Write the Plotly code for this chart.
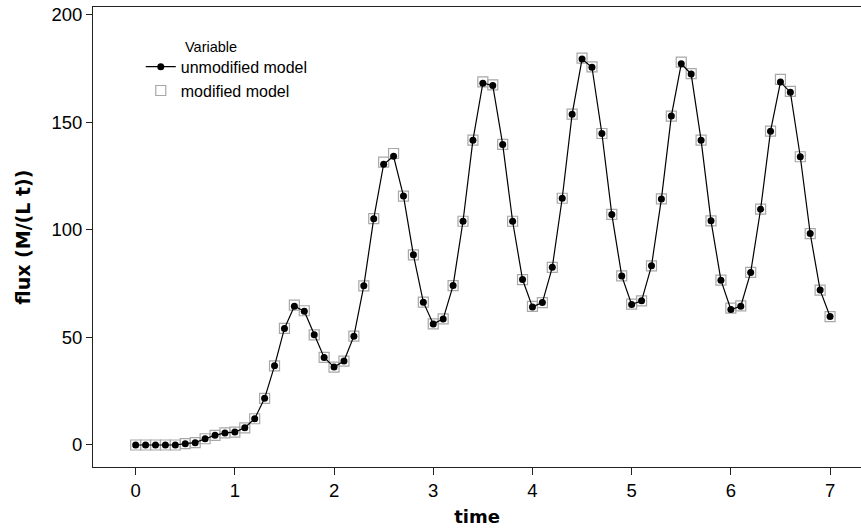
import plotly.graph_objects as go

time = [round(i * 0.1, 1) for i in range(71)]

unmodified = [0, 0, 0, 0, 0, 0.6, 1.1, 2.9, 4.5, 5.6,
              6.0, 8.0, 12.2, 21.7, 36.8, 54.2, 64.5, 62.2, 51.2, 40.7,
              36.2, 39.0, 50.6, 74.0, 105.2, 130.5, 134.2, 115.7, 88.4, 66.4,
              56.3, 58.6, 74.1, 104.0, 141.7, 168.2, 167.1, 139.7, 104.0, 76.9,
              64.2, 66.2, 82.6, 114.7, 153.8, 179.4, 175.6, 144.8, 107.2, 78.6,
              65.3, 67.0, 83.3, 114.4, 152.9, 177.2, 172.4, 141.7, 104.2, 76.6,
              63.0, 64.5, 80.2, 109.6, 145.9, 168.7, 164.0, 134.0, 98.3, 72.0,
              59.7]

modified = [0, 0, 0, 0, 0, 0.6, 1.1, 2.9, 4.5, 5.6,
            6.0, 8.0, 12.2, 21.7, 36.8, 54.2, 65.0, 62.4, 51.2, 40.7,
            36.2, 39.0, 50.6, 74.0, 105.2, 131.5, 135.5, 115.7, 88.4, 66.4,
            56.3, 58.6, 74.1, 104.0, 141.7, 168.8, 167.4, 139.7, 104.0, 76.9,
            64.4, 66.2, 82.6, 114.7, 153.8, 179.8, 175.8, 144.8, 107.2, 78.6,
            65.5, 67.0, 83.3, 114.4, 152.9, 178.0, 172.6, 141.7, 104.2, 76.6,
            63.6, 64.7, 80.2, 109.6, 145.9, 170.0, 164.4, 134.0, 98.3, 72.0,
            59.7]

xticks = [0, 1, 2, 3, 4, 5, 6, 7]
yticks = [0, 50, 100, 150, 200]

fig = go.Figure()
fig.add_trace(go.Scatter(
    x=time, y=modified, name="modified model", mode="markers",
    marker=dict(symbol="square-open", size=10, color="#a8a8a8", line=dict(width=1.2)),
    legendrank=2,
))
fig.add_trace(go.Scatter(
    x=time, y=unmodified, name="unmodified model", mode="lines+markers",
    line=dict(color="black", width=1.2),
    marker=dict(symbol="circle", size=7, color="black"),
    legendrank=1,
))

fig.update_layout(
    width=861, height=529,
    margin=dict(l=93, r=0, t=7, b=62),
    plot_bgcolor="white", paper_bgcolor="white",
    showlegend=True,
    legend=dict(x=0.0622, y=0.907, xanchor="left", yanchor="top",
                font=dict(family="Liberation Sans", size=16, color="black"),
                bgcolor="rgba(0,0,0,0)", tracegroupgap=0, itemwidth=30),
)
fig.add_annotation(text="Variable", xref="paper", yref="paper",
                   x=(183 - 93) / 768, y=1 - (47 - 7) / 460,
                   xanchor="left", yanchor="middle", showarrow=False,
                   font=dict(family="Liberation Sans", size=14.5, color="black"))

fig.update_xaxes(
    range=[-0.430, 7.312], tickvals=xticks, ticktext=[str(v) for v in xticks],
    showline=True, linecolor="#222", linewidth=1, mirror=True,
    ticks="outside", ticklen=7, tickcolor="#222",
    showgrid=False, zeroline=False,
    tickfont=dict(family="Liberation Sans", size=18.5, color="black"),
    title=dict(text="<b>time</b>", standoff=10,
               font=dict(family="DejaVu Sans", size=18, color="black")),
)
fig.update_yaxes(
    range=[-10.23, 203.6], tickvals=yticks, ticktext=[str(v) for v in yticks],
    showline=True, linecolor="#222", linewidth=1, mirror=False,
    ticks="outside", ticklen=6, tickcolor="#222",
    showgrid=False, zeroline=False,
    tickfont=dict(family="Liberation Sans", size=18.5, color="black"),
    title=dict(text="<b>flux (M/(L t))</b>", standoff=15,
               font=dict(family="DejaVu Sans", size=19, color="black")),
)

fig.write_html("out.html")
